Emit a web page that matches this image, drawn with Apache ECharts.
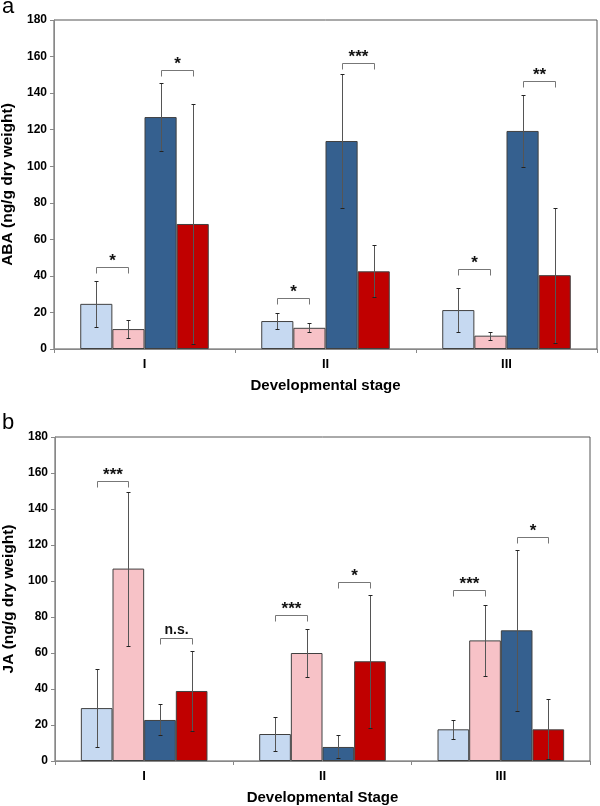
<!DOCTYPE html>
<html>
<head>
<meta charset="utf-8">
<script src="https://cdn.jsdelivr.net/npm/echarts@6/dist/echarts.min.js"></script>
<style>
  html, body { margin: 0; padding: 0; background: #fff; }
  #chart { width: 600px; height: 806px; }
</style>
</head>
<body>
<div id="chart"></div>
<script>
const categories = ['I', 'II', 'III']
const barColors = ['#c6d9f1', '#f7c2c7', '#35608f', '#c00000']

// panel a - ABA
const abaLightBlue = [24.7, 15.3, 21.3]
const abaLightBlueErr = [12.7, 4.6, 12.2]
const abaPink = [10.9, 11.6, 7.3]
const abaPinkErr = [4.9, 2.5, 2.2]
const abaDarkBlue = [126.9, 113.8, 119.3]
const abaDarkBlueErr = [18.8, 36.4, 19.9]
const abaRed = [68.4, 42.5, 40.4]
const abaRedErr = [65.7, 14.3, 37.0]
// [category, first bar of the pair, bracket height, label]
const abaSignif = [
  [0, 0, 44.7, '*'], [0, 2, 152.7, '*'],
  [1, 0, 27.8, '*'], [1, 2, 156.4, '***'],
  [2, 0, 43.6, '*'], [2, 2, 146.5, '**']
]

// panel b - JA
const jaLightBlue = [29.4, 15.0, 17.6]
const jaLightBlueErr = [21.5, 9.6, 5.1]
const jaPink = [106.9, 60.0, 67.0]
const jaPinkErr = [42.8, 13.6, 19.9]
const jaDarkBlue = [22.8, 7.8, 72.6]
const jaDarkBlueErr = [8.6, 6.4, 44.9]
const jaRed = [38.9, 55.4, 17.6]
const jaRedErr = [22.3, 37.0, 16.6]
const jaSignif = [
  [0, 0, 155.7, '***'], [0, 2, 68.3, 'n.s.'],
  [1, 0, 81.1, '***'], [1, 2, 99.3, '*'],
  [2, 0, 95.0, '***'], [2, 2, 124.6, '*']
]

const GAP = 0.29
const FONT = 'Liberation Sans, Arial, sans-serif'

function barOffset(api, idx) {
  const band = api.size([1, 0])[0]
  const bw = band * (1 - GAP) / 4
  return {bw: bw, off: (idx - 1.5) * bw}
}

function errorItem(params, api) {
  const cat = api.value(0)
  const o = barOffset(api, api.value(3))
  const x = Math.round(api.coord([cat, 0])[0] + o.off) + 0.5
  const lo = Math.round(api.coord([cat, api.value(1)])[1]) + 0.5
  const hi = Math.round(api.coord([cat, api.value(2)])[1]) + 0.5
  const cap = {stroke: '#222', lineWidth: 1}
  return {
    type: 'group',
    children: [
      {type: 'line', shape: {x1: x, y1: hi, x2: x, y2: lo}, style: {stroke: '#555', lineWidth: 1}},
      {type: 'line', shape: {x1: x - 2, y1: hi, x2: x + 2, y2: hi}, style: cap},
      {type: 'line', shape: {x1: x - 2, y1: lo, x2: x + 2, y2: lo}, style: cap}
    ]
  }
}

function bracketRenderer(signif) {
  return function (params, api) {
    const item = signif[params.dataIndex]
    const cat = api.value(0)
    const o = barOffset(api, item[1])
    const cx = api.coord([cat, 0])[0]
    const x1 = Math.round(cx + o.off) + 0.5
    const x2 = Math.round(cx + o.off + o.bw) + 0.5
    const y = Math.round(api.coord([cat, api.value(2)])[1]) + 0.5
    const isStar = item[3] !== 'n.s.'
    return {
      type: 'group',
      children: [
        {
          type: 'polyline',
          shape: {points: [[x1, y + 6], [x1, y], [x2, y], [x2, y + 6]]},
          style: {stroke: '#777', lineWidth: 1, fill: null}
        },
        {
          type: 'text',
          x: (x1 + x2) / 2,
          y: isStar ? y + 2 : y - 1,
          style: {
            text: item[3],
            fill: '#111',
            font: isStar ? 'bold 17px ' + FONT : 'bold 14px ' + FONT,
            align: 'center',
            verticalAlign: 'bottom'
          }
        }
      ]
    }
  }
}

function errorData(means, errs) {
  const out = []
  means.forEach((m, b) => {
    m.forEach((v, i) => {
      out.push([i, v - errs[b][i], v + errs[b][i], b])
    })
  })
  return out
}

function panelSeries(gi, means, errs, signif) {
  const series = means.map((m, b) => ({
    type: 'bar',
    xAxisIndex: gi,
    yAxisIndex: gi,
    data: m,
    barGap: '0%',
    barCategoryGap: (GAP * 100) + '%',
    itemStyle: {color: barColors[b], borderColor: '#404040', borderWidth: 1},
    z: 2
  }))
  series.push({
    type: 'custom',
    xAxisIndex: gi,
    yAxisIndex: gi,
    renderItem: errorItem,
    encode: {x: 0, y: [1, 2]},
    data: errorData(means, errs),
    z: 5
  })
  series.push({
    type: 'custom',
    xAxisIndex: gi,
    yAxisIndex: gi,
    renderItem: bracketRenderer(signif),
    encode: {x: 0, y: 2},
    data: signif.map(s => [s[0], s[1], s[2]]),
    z: 5
  })
  return series
}

function xAxisFor(gi, name) {
  return {
    type: 'category',
    gridIndex: gi,
    data: categories,
    axisLine: {lineStyle: {color: '#888', width: 1}},
    axisTick: {show: true, length: 4, lineStyle: {color: '#888'}},
    axisLabel: {margin: 9, color: '#000', fontWeight: 'bold', fontSize: 13, fontFamily: FONT},
    name: name,
    nameLocation: 'middle',
    nameGap: 29,
    nameTextStyle: {color: '#000', fontWeight: 'bold', fontSize: 15, fontFamily: FONT}
  }
}

function yAxisFor(gi, name) {
  return {
    type: 'value',
    gridIndex: gi,
    min: 0,
    max: 180,
    interval: 20,
    splitLine: {show: false},
    axisLine: {show: true, lineStyle: {color: '#888', width: 1}},
    axisTick: {show: true, length: 4, lineStyle: {color: '#888'}},
    axisLabel: {margin: 7, color: '#000', fontWeight: 'bold', fontSize: 12, fontFamily: FONT},
    name: name,
    nameLocation: 'middle',
    nameGap: 37,
    nameTextStyle: {color: '#000', fontWeight: 'bold', fontSize: 15.5, fontFamily: FONT}
  }
}

const option = {
  animation: false,
  backgroundColor: '#fff',
  grid: [
    {left: 54, right: 3, top: 20, height: 329, show: true, borderColor: '#555', borderWidth: 1, outerBoundsMode: 'none'},
    {left: 55, right: 10, top: 437, height: 324, show: true, borderColor: '#555', borderWidth: 1, outerBoundsMode: 'none'}
  ],
  xAxis: [xAxisFor(0, 'Developmental stage'), xAxisFor(1, 'Developmental Stage')],
  yAxis: [yAxisFor(0, 'ABA (ng/g dry weight)'), yAxisFor(1, 'JA (ng/g dry weight)')],
  graphic: [
    {type: 'text', left: 2, top: -4, style: {text: 'a', font: '22px ' + FONT, fill: '#000'}},
    {type: 'text', left: 2, top: 412, style: {text: 'b', font: '22px ' + FONT, fill: '#000'}}
  ],
  series: [].concat(
    panelSeries(0, [abaLightBlue, abaPink, abaDarkBlue, abaRed],
      [abaLightBlueErr, abaPinkErr, abaDarkBlueErr, abaRedErr], abaSignif),
    panelSeries(1, [jaLightBlue, jaPink, jaDarkBlue, jaRed],
      [jaLightBlueErr, jaPinkErr, jaDarkBlueErr, jaRedErr], jaSignif)
  )
}

const chart = echarts.init(document.getElementById('chart'))
chart.setOption(option)
</script>
</body>
</html>
